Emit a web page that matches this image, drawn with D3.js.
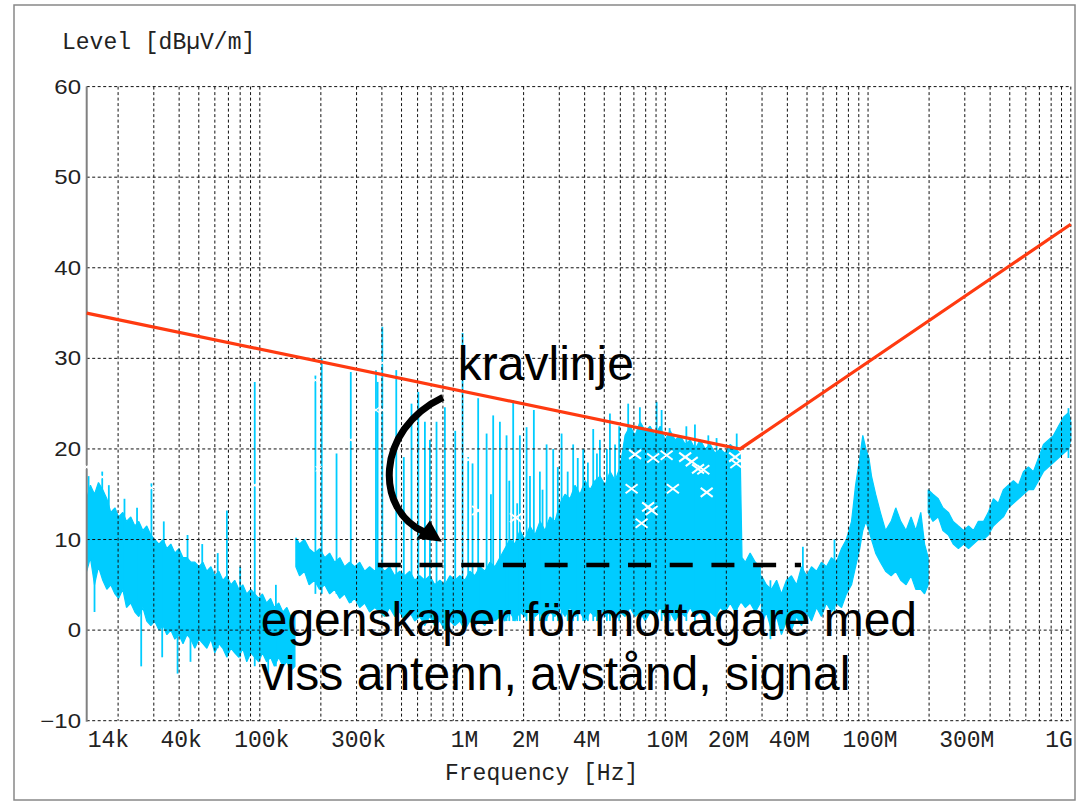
<!DOCTYPE html>
<html lang="sv">
<head>
<meta charset="UTF-8">
<title>Level vs Frequency</title>
<script src="https://d3js.org/d3.v7.min.js"></script>
<style>
  body { margin: 0; background: #fff; }
  svg { display: block; }
  .ytick { font-family: "Liberation Sans", Arial, sans-serif; font-size: 20px; fill: #222; }
  .mono { font-family: "Liberation Mono", "Courier New", monospace; font-size: 23px; fill: #222; }
  .note { font-family: "Liberation Sans", Arial, sans-serif; font-size: 48px; fill: #000; }
</style>
</head>
<body>
<svg id="chart" width="1086" height="804"></svg>
<script>
// frequencies in kHz, levels in dBuV/m
const xTicks = [14, 40, 100, 300, 1e3, 2e3, 4e3, 1e4, 2e4, 4e4, 1e5, 3e5, 1e6];
const xTickLabels = ["14k", "40k", "100k", "300k", "1M", "2M", "4M", "10M", "20M", "40M", "100M", "300M", "1G"];
const yTicks = [60, 50, 40, 30, 20, 10, 0, -10];

// limit line (kravlinje)
const limitFreq = [14, 23400, 1e6];
const limitLevel = [35, 20, 44.8];

// measured spectrum, [freq, low, high] per band segment
const bandA = [
  [14.0, 6.5, 14.5], [14.6, 8, 16], [15.3, 5, 15], [16.0, 7, 16.3], [16.8, 5.5, 15.5],
  [17.6, 4.5, 14.5], [18.4, 5, 13], [19.3, 4, 13.5], [20.1, 3.5, 12.5], [21.1, 4.5, 13],
  [22.0, 2.5, 12], [23.1, 3, 12.5], [24.2, 2, 11.5], [25.3, 1.5, 12], [26.5, 2.5, 11],
  [27.7, 1, 11.5], [29.0, 0.5, 10.5], [30.3, 1, 10], [31.8, 0, 9.5], [33.3, 0.5, 10],
  [34.8, -0.5, 9], [36.4, 0, 9.5], [38.1, -1, 8.5], [39.9, -0.5, 9], [41.8, -1.5, 8],
  [43.7, -0.5, 8], [45.7, -1, 7.5], [47.8, -2, 7.5], [50.1, -1, 7], [52.4, -1.5, 7.5],
  [54.8, -2, 6.5], [57.4, -1, 7], [60.0, -2.5, 6], [62.8, -1.5, 6.5], [65.7, -2, 5.5],
  [68.8, -3, 6], [72.0, -2, 5], [75.2, -2.5, 5.5], [78.8, -3, 4.5], [82.4, -2, 5],
  [86.2, -3.5, 4], [90.3, -2.5, 4.5], [94.4, -3, 4], [98.8, -3.5, 3.5], [103, -2.5, 4],
  [108, -3.5, 3], [113, -3, 3.5], [118, -4, 2.5], [124, -3, 3], [130, -4, 2],
  [136, -3.5, 2.5], [142, -4.5, 1.5], [149, -4, 2]
];
const bandB = [
  [150.6, 7, 10.2], [157, 6, 9.5], [166, 6.5, 10], [175, 5, 9], [186, 5.5, 8.5],
  [197, 4.5, 9], [209, 5, 8], [221, 4, 8.5], [234, 4.5, 7.5], [248, 3.5, 8],
  [262, 4, 7], [277, 3, 7.5], [294, 3.5, 7], [311, 2.5, 7.5], [329, 3, 6.5],
  [348, 2, 7], [369, 2.5, 6.5], [391, 2, 7], [413, 1.5, 6.5], [437, 2.5, 7],
  [463, 1.5, 6], [490, 2, 6.5], [519, 1, 6], [549, 2, 6.5], [581, 1, 5.5],
  [615, 1.5, 6], [651, 0.5, 5.5], [689, 1.5, 6], [730, 0.5, 5], [773, 1, 5.5],
  [818, 0, 5], [866, 1, 6], [916, 0.5, 5.5], [970, 1, 6], [1026, 0, 5.5],
  [1086, 1, 6.5], [1150, 0.5, 6], [1217, 1, 7], [1289, 0.5, 6.5], [1364, 1.5, 7.5],
  [1444, 1, 7], [1529, 1.5, 8], [1618, 1, 9], [1713, 2, 10], [1813, 1, 9.5],
  [1919, 2, 11], [2031, 1.5, 10], [2150, 2.5, 11.5], [2276, 1.5, 10.5], [2409, 2, 12],
  [2550, 1, 11], [2699, 2, 12.5], [2857, 1.5, 12], [3024, 2.5, 14], [3201, 1.5, 15],
  [3388, 2.5, 14.5], [3587, 1.5, 16], [3797, 2, 15], [4019, 1, 16.5], [4254, 2, 15.5],
  [4502, 1.5, 16.5], [4766, 2.5, 17], [5045, 1.5, 16], [5340, 2, 17.5], [5652, 1, 16.5],
  [5983, 2, 18], [6333, 1.5, 21.5], [6703, 2.5, 22.5], [7095, 1.5, 21.5], [7510, 2, 23],
  [7950, 1, 22], [8415, 2, 22.5], [8907, 1.5, 21.5], [9428, 2.5, 22.5], [9980, 1.5, 21],
  [10560, 2, 22], [11180, 1, 21], [11840, 2, 21.5], [12530, 1.5, 20.5], [13260, 2.5, 21],
  [14040, 1.5, 20], [14860, 2, 21], [15730, 1, 20], [16650, 2, 20.5], [17620, 1.5, 19.5],
  [18650, 2.5, 20], [19740, 2, 19.5], [20900, 3, 20.5], [22120, 2, 20], [23400, 3, 19.5],
  [23900, 3, 8], [24800, 2.5, 7.5], [26200, 3, 8.5], [27800, 2, 7.5], [29400, 3, 7]
];
const bandC = [
  [29800, 0.5, 6], [31500, 2, 5], [33400, 0, 4.5], [35400, 1.5, 5.5], [37400, -0.5, 4],
  [39600, 1, 5.5], [41900, 0, 6], [44400, 1.5, 5], [47000, 0.5, 7], [49700, 2, 6],
  [52600, 1, 7], [55700, 2.5, 6.5], [58900, 1.5, 7.5], [62300, 3, 7], [66000, 2, 8],
  [69800, 3, 7.5], [74000, 2.5, 9], [78200, 4, 10], [82900, 5, 12], [86800, 7, 16],
  [91000, 9, 19], [94200, 11, 21.5], [97600, 12, 20], [101000, 11, 19], [104000, 10, 17],
  [109000, 8.5, 15], [115000, 7.5, 13], [122000, 6.5, 11], [130000, 6, 12], [137000, 6.5, 13.5],
  [145000, 5.5, 12], [154000, 5, 11], [163000, 6, 12.5], [172000, 4.5, 11], [182000, 4.5, 13],
  [190000, 4, 9.5], [198000, 5, 8]
];
const bandD = [
  [198000, 13, 15.5], [209000, 12, 15], [222000, 12.5, 14.5], [234000, 11, 13.5], [249000, 10.5, 13],
  [263000, 9.5, 12], [279000, 9, 11.5], [296000, 9.5, 11], [313000, 9, 11.5], [331000, 9.5, 11],
  [350000, 10, 12], [371000, 10, 12], [392000, 10.5, 13], [415000, 11.5, 14.5], [439000, 12, 14],
  [465000, 12.5, 15.5], [492000, 13.5, 16], [521000, 14, 16.5], [552000, 14.5, 16], [584000, 15, 17.5],
  [618000, 15.5, 18], [654000, 15.5, 17.5], [693000, 16.5, 19], [733000, 17.5, 20.5], [776000, 18, 21],
  [822000, 18.5, 21.5], [869000, 19, 22.5], [920000, 19.5, 23.5], [974000, 20, 24], [1000000, 21, 23]
];

// narrow emissions, [freq, from, to]
const spikes = [
  [14.3, 8, 17], [15.3, 2, 8], [16.7, 10, 17.5], [18.0, 6, 16], [21.5, 4, 14.5],
  [24.8, 3, 13.5], [26.0, -4, 5], [29.2, 5, 16.2], [33.0, -3, 2], [33.6, 1, 12],
  [39.3, -4.8, 3], [44.0, 0, 10.5], [45.5, -3.5, 1], [52, -1, 9.5], [62, -2, 8.5],
  [68.8, 0, 13.2], [80, -3, 7], [94.4, -4, 27.4], [110, -5, 2], [120, -4, 5],
  [188, 4, 28.1], [202, 4, 30], [239, 4, 19.5], [281, 3, 28.5], [374, 3, 28.7],
  [381, 3, 27.4], [402, 3, 33.5], [471, 2, 28.7], [513, 2, 19.1], [560, 2, 25],
  [605, 2, 26.3], [652, 2, 23], [690, 2, 21], [744, 1, 23], [818, 1, 24.6],
  [920, 1, 22], [1000, 1, 32.8], [1066, 1, 19.1], [1120, 1, 18.4], [1194, 1, 25.6],
  [1314, 1, 21.7], [1416, 1, 23.7], [1528, 1, 23], [1648, 1, 21.5], [1777, 1, 25.4],
  [1917, 1, 21.5], [2069, 1, 22.4], [2247, 1, 24.3], [2406, 1, 17.5], [2597, 1, 20.5],
  [2799, 1, 20], [3079, 1, 21.7], [3512, 1, 20.5], [3936, 1, 20], [4410, 1, 22.2],
  [4757, 1, 21], [5331, 1, 23.9], [5920, 1, 22.5], [6560, 1, 25], [7490, 1, 24.6],
  [9060, 1, 25.2], [9590, 1, 24.3], [10500, 1, 22.3], [12700, 1, 22.5], [14000, 1, 22.7],
  [16300, 1, 21.5], [17900, 1, 21.2], [22500, 1, 21.7],
  [1380, 1, 15], [1700, 1, 16.5], [1860, 1, 14], [2150, 1, 17], [2480, 1, 15.5],
  [2950, 1, 18], [3300, 1, 17.5], [3700, 1, 19], [4150, 1, 18.5], [4600, 1, 19.5],
  [5150, 1, 20], [5650, 1, 20.5],
  [33000, -1, 5.5], [47700, 1, 9.2], [68300, 2, 10], [974000, 19, 24.5]
];

// detector markers
const markersQP = [
  [1194, 13.2], [1833, 12.4], [7095, 19.4], [8710, 19], [10150, 19.3], [12530, 19.1],
  [13500, 18.6], [14500, 17.8], [15400, 17.7], [22100, 19.1], [22400, 18.4], [6820, 15.6],
  [10900, 15.6], [16000, 15.2], [8230, 13.6], [8560, 13.2], [7640, 11.8]
];
const markersPk = [
  [14.0, 18], [16.7, 16.9], [29.2, 15.7], [94.4, 16], [188, 27.6], [195, 17.8],
  [281, 21], [374, 24.3], [402, 24.3], [402, 29.5], [1066, 18.8]
];

// annotation: receiver level line, arrow and texts
const refFreq = [382, 46700];
const refLevel = [7.2, 7.2];
const arrowCurve = [[800, 25.7], [369, 22.1], [369, 13.2], [651, 10.8]];
const arrowHead = [[593, 10.1], [690, 12.1], [790, 9.75]];
const notes = [
  { f: 948, v: 27.6, text: "kravlinje" },
  { f: 101, v: -0.66, text: "egenskaper för mottagare med" },
  { f: 101, v: -6.62, text: "viss antenn, avstånd, signal" }
];

const svg = d3.select("#chart");
const plot = { left: 86.7, right: 1070.8, top: 86.6, bottom: 720.7 };

const x = d3.scaleLog().domain([14, 1e6]).range([plot.left, plot.right]);
const y = d3.scaleLinear().domain([-10, 60]).range([plot.bottom, plot.top]);

// outer frame
svg.append("rect")
  .attr("x", 14).attr("y", 5).attr("width", 1061).attr("height", 795)
  .attr("fill", "none").attr("stroke", "#888").attr("stroke-width", 1.5);

// spectrum
const cyan = "#00ccff";
const area = d3.area()
  .x(d => x(d[0]))
  .y0(d => y(d[1]))
  .y1(d => y(d[2]));

const spec = svg.append("g");
[bandA, bandB, bandC, bandD].forEach(band => {
  spec.append("path")
    .attr("d", area(band))
    .attr("fill", cyan)
    .attr("stroke", cyan)
    .attr("stroke-width", 1.2)
    .attr("stroke-linejoin", "bevel");
});

spec.selectAll("line.spike")
  .data(spikes)
  .enter().append("line")
  .attr("class", "spike")
  .attr("x1", d => x(d[0])).attr("x2", d => x(d[0]))
  .attr("y1", d => y(d[1])).attr("y2", d => y(d[2]))
  .attr("stroke", cyan)
  .attr("stroke-width", 1.8);

// grid
const grid = svg.append("g")
  .attr("stroke", "#111")
  .attr("stroke-width", 1)
  .attr("stroke-dasharray", "3,2.5");

grid.selectAll("line.v")
  .data(x.ticks())
  .enter().append("line")
  .attr("x1", d => x(d)).attr("x2", d => x(d))
  .attr("y1", plot.top).attr("y2", plot.bottom);

grid.selectAll("line.h")
  .data(yTicks)
  .enter().append("line")
  .attr("x1", plot.left).attr("x2", plot.right)
  .attr("y1", d => y(d)).attr("y2", d => y(d));

svg.append("line")
  .attr("x1", plot.left).attr("x2", plot.left)
  .attr("y1", plot.top).attr("y2", plot.bottom + 1)
  .attr("stroke", "#808080").attr("stroke-width", 2);

// limit line
const line = d3.line().x(d => x(d[0])).y(d => y(d[1]));
svg.append("path")
  .attr("d", line(d3.zip(limitFreq, limitLevel)))
  .attr("fill", "none")
  .attr("stroke", "#ff3a10")
  .attr("stroke-width", 3.2);

// markers
function cross(g, data, w, h, sw) {
  g.selectAll(null)
    .data(data)
    .enter().append("path")
    .attr("transform", d => `translate(${x(d[0])},${y(d[1])})`)
    .attr("d", `M${-w},${-h}L${w},${h}M${-w},${h}L${w},${-h}`)
    .attr("stroke", "#fff")
    .attr("stroke-width", sw)
    .attr("fill", "none");
}
const mk = svg.append("g");
cross(mk, markersQP, 6, 4.5, 2);
cross(mk, markersPk, 3, 2.5, 1.2);

// receiver reference level (dashed)
svg.append("path")
  .attr("d", line(d3.zip(refFreq, refLevel)))
  .attr("stroke", "#000")
  .attr("stroke-width", 4.5)
  .attr("stroke-dasharray", "23,18.7");

// curved arrow
const p = arrowCurve.map(d => [x(d[0]), y(d[1])]);
svg.append("path")
  .attr("d", `M${p[0]}C${p[1]} ${p[2]} ${p[3]}`)
  .attr("fill", "none")
  .attr("stroke", "#000")
  .attr("stroke-width", 7);
svg.append("path")
  .attr("d", "M" + arrowHead.map(d => [x(d[0]), y(d[1])]).join("L") + "Z")
  .attr("fill", "#000");

svg.selectAll("text.note")
  .data(notes)
  .enter().append("text")
  .attr("class", "note")
  .attr("x", d => x(d.f))
  .attr("y", d => y(d.v))
  .text(d => d.text);

// axis labels
svg.selectAll("text.ytick")
  .data(yTicks)
  .enter().append("text")
  .attr("class", "ytick")
  .attr("transform", d => `translate(81,${y(d) + 7})scale(1.2,1)`)
  .attr("text-anchor", "end")
  .text(d3.format("d"));

svg.selectAll("text.xtick")
  .data(xTicks)
  .enter().append("text")
  .attr("class", "mono")
  .attr("x", (d, i) => i === 0 ? plot.left + 1 : (i === xTicks.length - 1 ? plot.right + 2 : x(d) + 2))
  .attr("y", 747)
  .attr("text-anchor", (d, i) => i === 0 ? "start" : (i === xTicks.length - 1 ? "end" : "middle"))
  .text((d, i) => xTickLabels[i]);

svg.append("text")
  .attr("class", "mono")
  .attr("x", 62).attr("y", 49)
  .text("Level [dBµV/m]");

svg.append("text")
  .attr("class", "mono")
  .attr("x", 445).attr("y", 780)
  .text("Frequency [Hz]");
</script>
</body>
</html>
